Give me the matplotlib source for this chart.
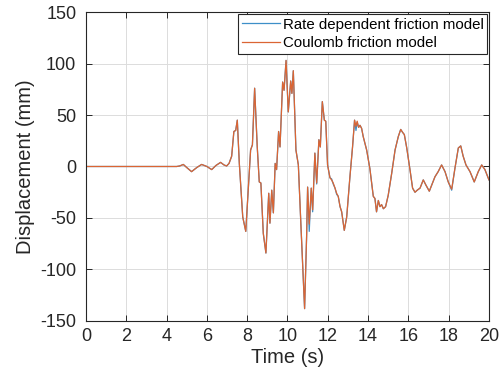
import matplotlib
matplotlib.use("Agg")
import matplotlib.pyplot as plt

plt.rcParams['font.family'] = ['Liberation Sans', 'DejaVu Sans']
plt.rcParams['axes.unicode_minus'] = False

# Time (s) and displacement (mm)
time_s = [0, 4.5, 4.65, 4.83, 5.0, 5.24, 5.5, 5.74, 6.0, 6.24, 6.45, 6.68, 6.85, 6.98,
          7.1, 7.23, 7.34, 7.43, 7.51, 7.61, 7.78, 7.93, 8.17, 8.26, 8.37, 8.50, 8.60,
          8.68, 8.80, 8.93, 9.07, 9.13, 9.22, 9.30, 9.39, 9.46, 9.56, 9.63, 9.76, 9.83,
          9.93, 10.04, 10.16, 10.22, 10.29, 10.42, 10.54, 10.65, 10.78, 10.85, 10.95,
          11.0, 11.08, 11.18, 11.25, 11.36, 11.45, 11.56, 11.63, 11.73, 11.83, 11.90,
          11.99, 12.11, 12.19, 12.27, 12.36, 12.44, 12.52, 12.61, 12.69, 12.82, 12.94,
          13.1, 13.23, 13.33, 13.40, 13.46, 13.53, 13.60, 13.68, 13.76, 13.93, 14.09,
          14.26, 14.34, 14.42, 14.51, 14.59, 14.67, 14.76, 14.87, 15.0, 15.17, 15.34,
          15.50, 15.62, 15.72, 15.80, 15.92, 16.08, 16.21, 16.33, 16.44, 16.58, 16.74,
          16.87, 17.04, 17.32, 17.48, 17.65, 17.82, 17.98, 18.15, 18.31, 18.48, 18.6,
          18.72, 18.86, 19.06, 19.27, 19.47, 19.64, 19.80, 20.0]

coulomb = [0, 0, 0.5, 2, -1, -5, -1, 2, 0, -3, 1, 4, 1.5, 0.5,
           3, 10, 34, 35, 45, 3, -49, -63, 16, 21, 76, 19, -15,
           -16, -65, -84, -26, -55, -23, -45, 3, -3, 34, 19, 82, 74,
           103, 53, 83, 71, 93, 16, 1.5, -49, -107, -138, -68,
           -20, -56, -21, -42, 13, -16, 26, 19, 63, 45, 44,
           1.5, -11, -13, -16, -21, -26, -29, -39, -44, -62, -49,
           -10, 19, 45, 39, 44, 38, 40, 37, 29, 16, -2,
           -29, -31, -44, -33, -39, -37, -41, -39, -28, -7, 16,
           29, 36, 33, 31, 18, -3, -21, -25, -23, -21, -13,
           -18, -24, -10, -5, 1.5, -5, -15, -22, -2, 18, 20,
           10, 1.5, -5, -15, -5, 1.5, -3, -13]

rate_dependent = [0, 0, 0.5, 2, -1, -5, -1, 2, 0, -3, 1, 4, 1.5, 0.5,
                  3, 10, 34, 35, 45, 3, -49, -63, 16, 21, 76, 19, -15,
                  -16, -65, -84, -26, -55, -23, -45, 3, -3, 34, 19, 82, 74,
                  103, 53, 83, 71, 93, 16, 1.5, -49, -107, -138, -68,
                  -20, -63, -21, -44, 13, -17, 26, 19, 63, 45, 44,
                  1.5, -11, -12, -17, -21, -27, -29, -39, -44, -62, -49,
                  -10, 19, 45, 35, 43, 38, 40, 37, 29, 16, -2,
                  -29, -31, -44, -33, -39, -37, -41, -39, -28, -7, 16,
                  29, 36, 33, 31, 18, -3, -21, -25, -23, -21, -13,
                  -18, -24, -10, -5, 1.5, -5, -15, -23, -2, 18, 20,
                  10, 1.5, -5, -15, -5, 1.5, -3, -13]

x_ticks = [0, 2, 4, 6, 8, 10, 12, 14, 16, 18, 20]
y_ticks = [-150, -100, -50, 0, 50, 100, 150]

fig = plt.figure(figsize=(5.02, 3.80), dpi=100)
ax = fig.add_axes([0.1713, 0.1553, 0.8027, 0.8131])

ax.plot(time_s, rate_dependent, color='#3D8FC8', lw=0.9, label='Rate dependent friction model')
ax.plot(time_s, coulomb, color='#DB6534', lw=0.9, label='Coulomb friction model')

ax.set_xlim(0, 20)
ax.set_ylim(-150, 150)
ax.set_xticks(x_ticks)
ax.set_yticks(y_ticks)
ax.grid(True, color='#dcdcdc', lw=0.7)
ax.set_axisbelow(True)
for s in ax.spines.values():
    s.set_color('#262626')
    s.set_linewidth(0.8)
ax.tick_params(direction='in', length=4, width=0.7, color='#262626',
               labelsize=13, labelcolor='#262626', top=True, right=True,
               labeltop=False, labelright=False)
ax.tick_params(axis='y', pad=7)
ax.tick_params(axis='x', pad=5)
ax.set_xlabel('Time (s)', fontsize=14.5, color='#262626', labelpad=2)
ax.set_ylabel('Displacement (mm)', fontsize=14.5, color='#262626', labelpad=4)

leg = ax.legend(loc='upper right', fontsize=10.8, frameon=True, fancybox=False,
                edgecolor='#262626', framealpha=1, borderaxespad=0.12,
                handlelength=2.5, handletextpad=0.2, labelspacing=0.3,
                borderpad=0.25)
leg.get_frame().set_linewidth(0.8)

fig.savefig('out.png', dpi=100)
